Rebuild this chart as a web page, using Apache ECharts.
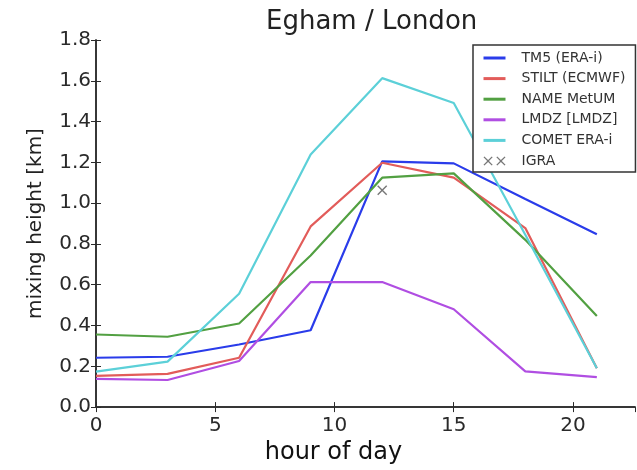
<!DOCTYPE html>
<html>
<head>
<meta charset="utf-8">
<script src="https://cdn.jsdelivr.net/npm/echarts@6/dist/echarts.min.js"></script>
<style>html,body{margin:0;padding:0;background:#fff;}#c{width:637px;height:470px;}</style>
</head>
<body>
<div id="c"></div>
<script>
const hours = [0, 3, 6, 9, 12, 15, 18, 21];
const tm5   = [0.242, 0.247, 0.307, 0.377, 1.205, 1.195, 1.02, 0.848];
const stilt = [0.153, 0.163, 0.242, 0.886, 1.198, 1.125, 0.878, 0.19];
const name_ = [0.356, 0.345, 0.41, 0.743, 1.125, 1.146, 0.82, 0.447];
const lmdz  = [0.138, 0.133, 0.226, 0.613, 0.613, 0.48, 0.175, 0.147];
const comet = [0.174, 0.223, 0.556, 1.239, 1.613, 1.491, 0.845, 0.19];
const igraHours = [12];
const igraVals  = [1.063];
const seriesNames = ['TM5 (ERA-i)', 'STILT (ECMWF)', 'NAME MetUM', 'LMDZ [LMDZ]', 'COMET ERA-i', 'IGRA'];
const colors = ['#2a3cea', '#e25c5a', '#52a042', '#b04ee2', '#5cd0d8', '#555555'];
const xTicks = [0, 5, 10, 15, 20];
const yTicks = [0.0, 0.2, 0.4, 0.6, 0.8, 1.0, 1.2, 1.4, 1.6, 1.8];

const FONT = 'DejaVu Sans';
const X_SHAPE = 'M0,1L1,0L5,4L9,0L10,1L6,5L10,9L9,10L5,6L1,10L0,9L4,5Z';
const X2_SHAPE = 'path://M0,1L1,0L5,4L9,0L10,1L6,5L10,9L9,10L5,6L1,10L0,9L4,5Z' +
                 'M14,1L15,0L19,4L23,0L24,1L20,5L24,9L23,10L19,6L15,10L14,9L18,5Z';

const lineVals = [tm5, stilt, name_, lmdz, comet];
const series = lineVals.map((vals, i) => ({
  name: seriesNames[i],
  type: 'line',
  data: hours.map((h, j) => [h, vals[j]]),
  symbol: 'none',
  lineStyle: { width: 2.2, color: colors[i] },
  itemStyle: { color: colors[i] },
  z: 3
}));
series.push({
  name: seriesNames[5],
  type: 'scatter',
  data: igraHours.map((h, j) => [h, igraVals[j]]),
  symbol: 'path://' + X_SHAPE,
  symbolSize: 10,
  itemStyle: { color: colors[5] },
  z: 4
});

const axisLineStyle = { color: '#2a2a2a', width: 1.5 };
const labelStyle = { color: '#2a2a2a', fontSize: 20, fontFamily: FONT };

const chart = echarts.init(document.getElementById('c'), null, { renderer: 'canvas' });
chart.setOption({
  animation: false,
  backgroundColor: '#ffffff',
  title: {
    text: 'Egham / London',
    left: 261, top: 4,
    textStyle: { fontSize: 26, fontWeight: 'normal', color: '#222', fontFamily: FONT }
  },
  grid: { left: 96, right: 2, top: 40, bottom: 61 },
  legend: {
    orient: 'vertical',
    left: 473, top: 45,
    padding: [6, 10, 4, 9],
    itemWidth: 22, itemHeight: 10, itemGap: 6.6,
    backgroundColor: '#ffffff',
    borderColor: '#333', borderWidth: 1.5,
    itemStyle: { color: 'transparent', borderWidth: 0 },
    lineStyle: { width: 3 },
    textStyle: { fontSize: 14, color: '#333', fontFamily: FONT, lineHeight: 14, padding: [0, 0, 0, 11] },
    data: seriesNames.map((n, i) => i === 5
      ? { name: n, icon: X2_SHAPE, itemStyle: { color: colors[5] } }
      : { name: n })
  },
  xAxis: [{
    type: 'value', min: 0, max: 22.6, interval: 5,
    name: 'hour of day', nameLocation: 'middle', nameGap: 32,
    nameTextStyle: { fontSize: 24, color: '#111', fontFamily: FONT, padding: [0, 64, 0, 0] },
    axisLine: { lineStyle: axisLineStyle },
    axisTick: { inside: true, length: 5, lineStyle: { color: '#2a2a2a', width: 1 } },
    axisLabel: Object.assign({ margin: 9, showMaxLabel: false,
      formatter: v => xTicks.includes(v) ? String(v) : '' }, labelStyle),
    splitLine: { show: false }
  }, {
    type: 'value', min: 0, max: 22.6, interval: 5, position: 'top',
    axisLine: { lineStyle: axisLineStyle },
    axisTick: { inside: true, length: 5, lineStyle: { color: '#2a2a2a', width: 1 } },
    axisLabel: { show: false }, splitLine: { show: false }
  }],
  yAxis: [{
    type: 'value', min: 0, max: 1.8, interval: 0.2,
    name: 'mixing height [km]', nameLocation: 'middle', nameGap: 50,
    nameTextStyle: { fontSize: 20, color: '#222', fontFamily: FONT },
    axisLine: { lineStyle: axisLineStyle },
    axisTick: { inside: true, length: 5, lineStyle: { color: '#2a2a2a', width: 1 } },
    axisLabel: Object.assign({ margin: 5,
      formatter: v => { const t = yTicks.find(y => Math.abs(y - v) < 1e-6); return t === undefined ? '' : t.toFixed(1); } }, labelStyle),
    splitLine: { show: false }
  }, {
    type: 'value', min: 0, max: 1.8, interval: 0.2, position: 'right',
    axisLine: { lineStyle: axisLineStyle },
    axisTick: { inside: true, length: 5, lineStyle: { color: '#2a2a2a', width: 1 } },
    axisLabel: { show: false }, splitLine: { show: false }
  }],
  series: series
});
</script>
</body>
</html>
